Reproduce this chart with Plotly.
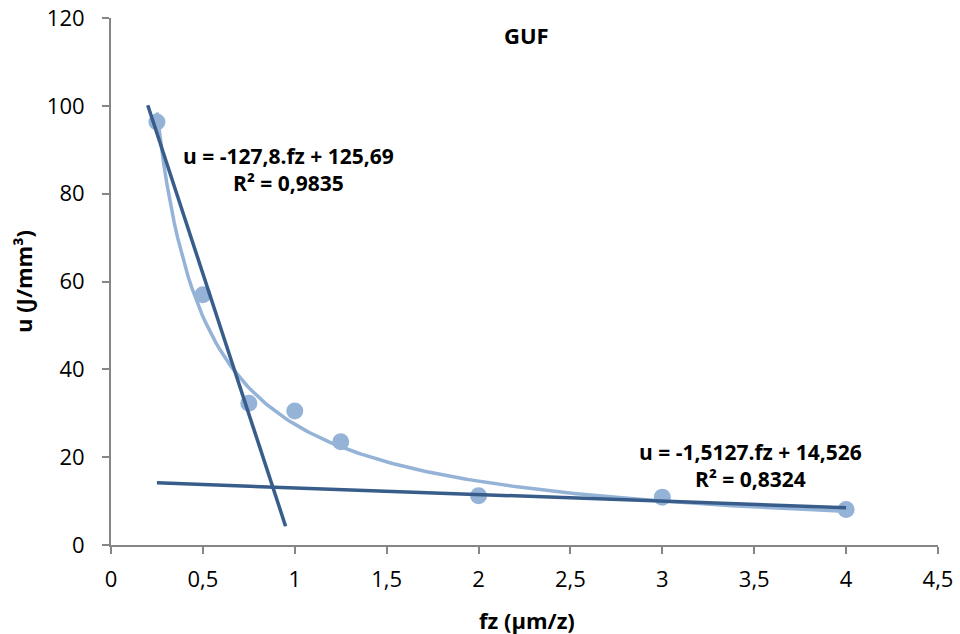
import numpy as np
import plotly.graph_objects as go

fz = [0.25, 0.5, 0.75, 1.0, 1.25, 2.0, 3.0, 4.0]
u = [96.3, 57.0, 32.3, 30.5, 23.5, 11.2, 10.9, 8.1]

# linear trend lines (coefficients from the chart labels)
lin1_slope, lin1_icpt = -127.8, 125.69
lin1_x = [0.2, 0.95]
lin2_slope, lin2_icpt = -1.5127, 14.526
lin2_x = [0.25, 4.0]

eq1 = "<b>u = -127,8.fz + 125,69</b><br><b>R² = 0,9835</b>"
eq2 = "<b>u = -1,5127.fz + 14,526</b><br><b>R² = 0,8324</b>"
title = "<b>GUF</b>"
xtitle = "<b>fz (µm/z)</b>"
ytitle = "<b>u (J/mm³)</b>"

xticks = [0, 0.5, 1, 1.5, 2, 2.5, 3, 3.5, 4, 4.5]
xticklabels = ["0", "0,5", "1", "1,5", "2", "2,5", "3", "3,5", "4", "4,5"]
yticks = [0, 20, 40, 60, 80, 100, 120]

# power trend line fitted from the data (log-log least squares)
b, loga = np.polyfit(np.log(fz), np.log(u), 1)
a = np.exp(loga)
xc = np.linspace(min(fz), max(fz), 200)
yc = a * xc ** b

light = "#95B3D7"
dark = "#385D8A"
font = "Open Sans"

fig = go.Figure()
fig.add_trace(go.Scatter(x=fz, y=u, mode="markers",
                         marker=dict(size=17, color=light), showlegend=False))
fig.add_trace(go.Scatter(x=xc, y=yc, mode="lines",
                         line=dict(color=light, width=3.5), showlegend=False))
fig.add_trace(go.Scatter(x=lin1_x, y=[lin1_slope * x + lin1_icpt for x in lin1_x],
                         mode="lines", line=dict(color=dark, width=3.5), showlegend=False))
fig.add_trace(go.Scatter(x=lin2_x, y=[lin2_slope * x + lin2_icpt for x in lin2_x],
                         mode="lines", line=dict(color=dark, width=3.5), showlegend=False))

fig.add_annotation(x=0.966, y=85.4, text=eq1, showarrow=False,
                   xanchor="center", yanchor="middle",
                   font=dict(family=font, size=21, color="black"), align="center")
fig.add_annotation(x=3.48, y=18.0, text=eq2, showarrow=False,
                   xanchor="center", yanchor="middle",
                   font=dict(family=font, size=21, color="black"), align="center")
fig.add_annotation(x=2.26, y=116.2, text=title, showarrow=False,
                   xanchor="center", yanchor="middle",
                   font=dict(family=font, size=22, color="black"))
fig.add_annotation(xref="paper", yref="paper", x=0.503, y=-75 / 527, text=xtitle,
                   xanchor="center", yanchor="middle",
                   showarrow=False, font=dict(family=font, size=22, color="black"))
fig.add_annotation(xref="paper", yref="paper", x=-88 / 827, y=0.499, text=ytitle,
                   xanchor="center", yanchor="middle", textangle=-90, showarrow=False,
                   font=dict(family=font, size=22, color="black"))

fig.update_layout(
    width=960, height=634,
    margin=dict(l=111, r=22, t=18, b=89),
    plot_bgcolor="white", paper_bgcolor="white",
    font=dict(family=font, size=22, color="black"),
)
fig.update_xaxes(range=[0, 4.5], tickvals=xticks, ticktext=xticklabels,
                 showgrid=False, zeroline=False, showline=True, automargin=False,
                 linecolor="#868686", linewidth=2, ticks="outside",
                 tickcolor="#868686", ticklen=7, tickwidth=2, ticklabelstandoff=7)
fig.update_yaxes(range=[0, 120], tickvals=yticks,
                 showgrid=False, zeroline=False, showline=True, automargin=False,
                 linecolor="#868686", linewidth=2, ticks="outside",
                 tickcolor="#868686", ticklen=7, tickwidth=2, ticklabelstandoff=13)

fig.write_html("out.html")
